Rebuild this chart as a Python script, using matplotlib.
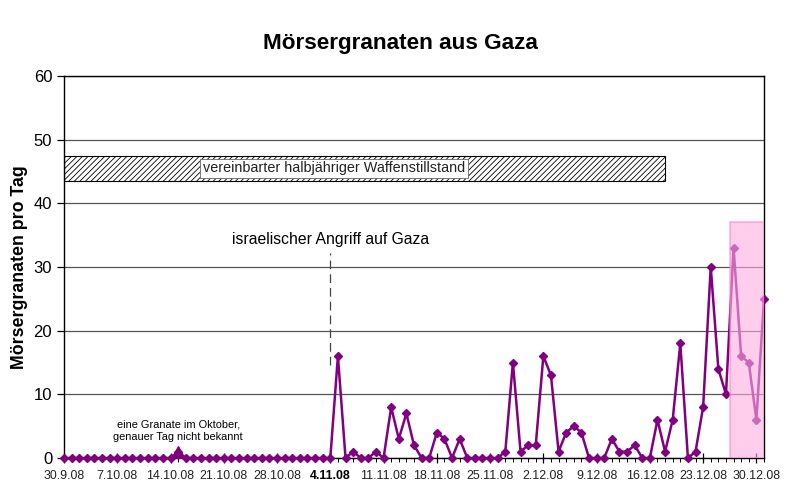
import matplotlib
matplotlib.use("Agg")
import matplotlib.pyplot as plt
import matplotlib.dates as mdates
from matplotlib.patches import Rectangle
import pandas as pd
import numpy as np

plt.rcParams['font.family'] = ['Liberation Sans', 'DejaVu Sans']
plt.rcParams['hatch.linewidth'] = 0.6

# Tageswerte 30.9.08 - 31.12.08
sep = [0]
okt = [0, 0, 0, 0, 0, 0, 0, 0, 0, 0, 0, 0, 0, 0, 1, 0, 0, 0, 0, 0,
       0, 0, 0, 0, 0, 0, 0, 0, 0, 0, 0]
nov = [0, 0, 0, 0, 16, 0, 1, 0, 0, 1, 0, 8, 3, 7, 2, 0, 0, 4, 3, 0,
       3, 0, 0, 0, 0, 0, 1, 15, 1, 2]
dez = [2, 16, 13, 1, 4, 5, 4, 0, 0, 0, 3, 1, 1, 2, 0, 0, 6, 1, 6, 18,
       0, 1, 8, 30, 14, 10, 33, 16, 15, 6, 25]
werte = sep + okt + nov + dez
tage = pd.date_range("2008-09-30", "2008-12-31", freq="D")

tick_labels = ["30.9.08", "7.10.08", "14.10.08", "21.10.08", "28.10.08", "4.11.08",
               "11.11.08", "18.11.08", "25.11.08", "2.12.08", "9.12.08", "16.12.08",
               "23.12.08", "30.12.08"]
tick_tage = pd.to_datetime(["2008-09-30", "2008-10-07", "2008-10-14", "2008-10-21",
                            "2008-10-28", "2008-11-04", "2008-11-11", "2008-11-18",
                            "2008-11-25", "2008-12-02", "2008-12-09", "2008-12-16",
                            "2008-12-23", "2008-12-30"])

angriff = pd.Timestamp("2008-11-04")
okt_granate = pd.Timestamp("2008-10-15")
waffenruhe_ende = pd.Timestamp("2008-12-18")
rosa_start = pd.Timestamp("2008-12-26 12:00")

lila = "#800080"

fig = plt.figure(figsize=(8.01, 5.0), dpi=100)
ax = fig.add_axes([64 / 801, 1 - 458 / 500, 700 / 801, 382 / 500])

ax.set_xlim(tage[0], tage[-1])
ax.set_ylim(0, 60)
ax.yaxis.grid(True, color="#555555", linewidth=0.9)
ax.set_axisbelow(True)

ax.plot(tage, werte, color=lila, linewidth=1.8, marker="D", markersize=4.4,
        clip_on=False, zorder=3)
ax.plot([okt_granate], [1], marker="^", color=lila, markersize=8, zorder=4)

# rosa Bereich (Beginn der Operation)
ax.add_patch(Rectangle((mdates.date2num(rosa_start), 0),
                       mdates.date2num(tage[-1]) - mdates.date2num(rosa_start), 37,
                       facecolor="#ffaee0", edgecolor="#ff80c8", alpha=0.6,
                       linewidth=1.2, zorder=5))

# Waffenstillstand
x0 = mdates.date2num(tage[0])
ax.add_patch(Rectangle((x0, 43.5), mdates.date2num(waffenruhe_ende) - x0, 4,
                       facecolor="white", edgecolor="black", hatch="//////",
                       linewidth=0.8, zorder=2))
ax.text(pd.Timestamp("2008-10-18 06:00"), 45.5, "vereinbarter halbjähriger Waffenstillstand",
        fontsize=10.4, va="center", ha="left", color="#222222", zorder=3,
        bbox=dict(facecolor="white", edgecolor="#666666", linewidth=0.6, pad=2.0))

# Angriff
ax.plot([angriff, angriff], [14.6, 32.2], color="#444444", linewidth=0.9,
        linestyle=(0, (7, 4)), zorder=2)
ax.text(angriff, 34.3, "israelischer Angriff auf Gaza", fontsize=11.3,
        ha="center", va="center")

ax.text(pd.Timestamp("2008-10-15"), 4.3, "eine Granate im Oktober,\ngenauer Tag nicht bekannt",
        fontsize=7.9, ha="center", va="center", linespacing=1.4)

ax.set_yticks(range(0, 61, 10))
ax.tick_params(axis="y", labelsize=12, direction="out", length=5, width=0.9)
ax.set_xticks(tick_tage)
ax.set_xticklabels(tick_labels)
ax.xaxis.set_minor_locator(mdates.DayLocator())
ax.tick_params(axis="x", which="major", labelsize=8.9, direction="inout", length=7,
               width=0.9, pad=5, labelcolor="#222222")
ax.tick_params(axis="x", which="minor", direction="out", length=3, width=0.7)
for lab in ax.get_xticklabels():
    if lab.get_text() == "4.11.08":
        lab.set_fontweight("bold")
        lab.set_color("black")

for s in ax.spines.values():
    s.set_linewidth(1.0)
    s.set_color("black")

ax.set_ylabel("Mörsergranaten pro Tag", fontsize=12.8, fontweight="bold", labelpad=4)
fig.suptitle("Mörsergranaten aus Gaza", x=0.5, y=0.935, fontsize=16.2, fontweight="bold")

fig.savefig("out.png", dpi=100)
